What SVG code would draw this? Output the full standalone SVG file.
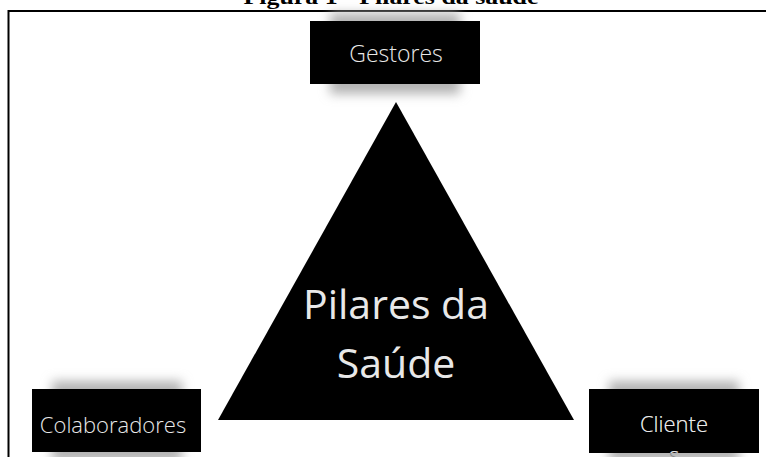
<svg xmlns="http://www.w3.org/2000/svg" width="766" height="457" viewBox="0 0 766 457">
<defs>
<style>
.box{fill:#000}
.lbl{font-family:"Open Sans","DejaVu Sans",sans-serif;font-weight:300;fill:#e8e8e8;text-anchor:middle}
.glow{fill:#b4b4b4;filter:url(#blur)}
</style>
<filter id="blur" x="-30%" y="-50%" width="160%" height="200%"><feGaussianBlur stdDeviation="5.5"/></filter>
<clipPath id="clipCli"><rect x="589" y="389" width="170" height="64"/></clipPath>
</defs>
<rect width="766" height="457" fill="#fff"/>
<text x="391" y="4" font-family="Liberation Serif,serif" font-weight="bold" font-size="21" text-anchor="middle" textLength="295" lengthAdjust="spacingAndGlyphs" fill="#000">Figura 1 - Pilares da saúde</text>
<path d="M8.5 457 V11 H766" fill="none" stroke="#000" stroke-width="2"/>
<g id="connectors"></g>
<g id="triangle">
<polygon points="396,102 574,420 218,420" fill="#000"/>
<text class="lbl" x="396" y="319" font-size="41" style="font-weight:400">Pilares da</text>
<text class="lbl" x="396" y="378" font-size="41" style="font-weight:400">Saúde</text>
</g>
<g id="gestores">
<rect class="glow" x="330" y="13" width="130" height="81"/>
<rect class="box" x="310" y="21" width="170" height="63"/>
<text class="lbl" x="396" y="62" font-size="23">Gestores</text>
</g>
<g id="colaboradores">
<rect class="glow" x="52" y="381" width="130" height="81"/>
<rect class="box" x="32" y="389" width="169" height="63"/>
<text class="lbl" x="113" y="433" font-size="22">Colaboradores</text>
</g>
<g id="clientes">
<rect class="glow" x="609" y="381" width="130" height="81"/>
<rect class="box" x="589" y="389" width="170" height="64"/>
<text class="lbl" x="674" y="432" font-size="22" style="fill:#8a8a8a"><tspan x="674" dy="0">Cliente</tspan><tspan x="674" dy="31">s</tspan></text>
<text class="lbl" x="674" y="432" font-size="22" clip-path="url(#clipCli)"><tspan x="674" dy="0">Cliente</tspan><tspan x="674" dy="31">s</tspan></text>
</g>
</svg>
